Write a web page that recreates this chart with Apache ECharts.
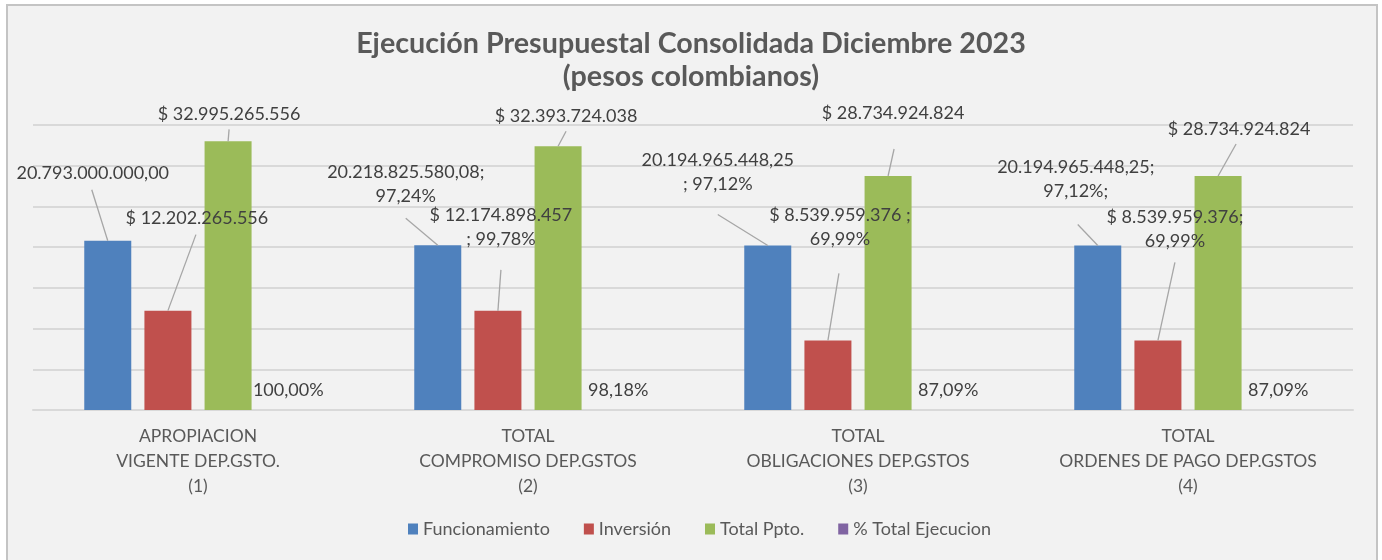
<!DOCTYPE html>
<html>
<head>
<meta charset="utf-8">
<script src="https://cdn.jsdelivr.net/npm/echarts@6/dist/echarts.min.js"></script>
<style>
    html, body { margin: 0; padding: 0; background: #fff; overflow: hidden; }
    #frame {
        position: absolute; left: 6px; top: 4px; width: 1368px; height: 600px;
        border: 2px solid #c4c4c4; background: #f2f2f2;
    }
    #budgetChart { position: absolute; left: 0; top: 0; width: 1382px; height: 560px; }
</style>
</head>
<body>
<div id="frame"></div>
<div id="budgetChart"></div>
<script>
const categories = [
    'APROPIACION\nVIGENTE DEP.GSTO.\n(1)',
    'TOTAL\nCOMPROMISO DEP.GSTOS\n(2)',
    'TOTAL\nOBLIGACIONES DEP.GSTOS\n(3)',
    'TOTAL\nORDENES DE PAGO DEP.GSTOS\n(4)'
];
const seriesNames = ['Funcionamiento', 'Inversión', 'Total Ppto.', '% Total Ejecucion'];

const funcionamiento = [20793000000.00, 20218825580.08, 20194965448.25, 20194965448.25];
const inversion = [12202265556, 12174898457, 8539959376, 8539959376];
const totalPpto = [32995265556, 32393724038, 28734924824, 28734924824];
const pctEjecucion = [100.00, 98.18, 87.09, 87.09];

const funcionamientoLabels = [
    '20.793.000.000,00',
    '20.218.825.580,08;\n97,24%',
    '20.194.965.448,25\n; 97,12%',
    '20.194.965.448,25;\n97,12%;'
];
const inversionLabels = [
    '$ 12.202.265.556',
    '$ 12.174.898.457\n; 99,78%',
    '$ 8.539.959.376 ;\n69,99%',
    '$ 8.539.959.376;\n69,99%'
];
const totalLabels = ['$ 32.995.265.556', '$ 32.393.724.038', '$ 28.734.924.824', '$ 28.734.924.824'];
const pctLabels = ['100,00%', '98,18%', '87,09%', '87,09%'];

const BAR_WIDTH = 47;
const BAR_GAP = 0.28;

window.onload = () => {
    new BudgetChartVm().main();
};

class BudgetChartVm {
    chart;

    // label centre offsets from the top centre of each bar (callout placement)
    calloutOffsets = [
        [[-15, -67], [-32, -61], [-50, -73], [-22, -66]],
        [[29, -92], [3, -84], [12, -113], [17, -111]],
        [[1, -27], [8, -30], [5, -63], [21, -47]]
    ];
    // where the leader line starts, relative to the top centre of the bar
    leaderStarts = [
        [[-16, -51], [-32, -27], [-50, -31], [-20, -21]],
        [[28, -76], [3, -41], [11, -67], [17, -78]],
        [[1, -12], [8, -15], [6, -27], [18, -32]]
    ];

    main() {
        this.chart = echarts.init(document.getElementById('budgetChart'), null, {renderer: 'canvas'});
        this.chart.setOption(this.buildOption());
    }

    barSeries(index, values, labels, color) {
        let offsets = this.calloutOffsets[index];
        return {
            name: seriesNames[index],
            type: 'bar',
            data: values,
            barWidth: BAR_WIDTH,
            barGap: (BAR_GAP * 100) + '%',
            barCategoryGap: '31%',
            itemStyle: {color: color},
            label: {
                show: true,
                position: 'top',
                formatter: p => labels[p.dataIndex],
                fontFamily: 'Lato',
                fontSize: 18,
                lineHeight: 24,
                color: '#404040'
            },
            labelLayout: p => {
                let off = offsets[p.dataIndex];
                return {
                    x: p.rect.x + p.rect.width / 2 + off[0],
                    y: p.rect.y + off[1],
                    align: 'center',
                    verticalAlign: 'middle'
                };
            }
        };
    }

    // callout leader lines, anchored on the bar tops through the axes
    leaderSeries() {
        let data = [];
        [funcionamiento, inversion, totalPpto].forEach((arr, s) => {
            arr.forEach((v, c) => data.push([c, v, s]));
        });
        let starts = this.leaderStarts;
        let step = BAR_WIDTH * (1 + BAR_GAP);
        let groupWidth = BAR_WIDTH * 4 + BAR_WIDTH * BAR_GAP * 3;
        return {
            type: 'custom',
            name: 'leaders',
            data: data,
            encode: {x: 0, y: 1},
            z: 3,
            silent: true,
            renderItem: (params, api) => {
                let c = api.value(0);
                let s = api.value(2);
                let pt = api.coord([c, api.value(1)]);
                let cx = pt[0] - groupWidth / 2 + BAR_WIDTH / 2 + s * step;
                let top = pt[1];
                let st = starts[s][c];
                return {
                    type: 'line',
                    shape: {x1: cx + st[0], y1: top + st[1], x2: cx, y2: top},
                    style: {stroke: '#a6a6a6', lineWidth: 1.3}
                };
            }
        };
    }

    buildOption() {
        let textColor = '#595959';
        return {
            animation: false,
            backgroundColor: 'transparent',
            title: {
                text: 'Ejecución Presupuestal Consolidada Diciembre 2023\n(pesos colombianos)',
                left: 'center',
                top: 22,
                textStyle: {
                    fontFamily: 'Lato',
                    fontSize: 28.7,
                    fontWeight: 'bold',
                    lineHeight: 33,
                    color: textColor
                }
            },
            legend: {
                data: seriesNames,
                bottom: 17,
                left: 403,
                icon: 'rect',
                itemWidth: 10,
                itemHeight: 11,
                itemGap: 34,
                textStyle: {fontFamily: 'Lato', fontSize: 18, color: textColor}
            },
            grid: {left: 33, right: 29, top: 125, bottom: 150},
            xAxis: {
                type: 'category',
                data: categories,
                axisLine: {lineStyle: {color: '#d9d9d9', width: 2}},
                axisTick: {show: false},
                axisLabel: {
                    fontFamily: 'Lato',
                    fontSize: 17.5,
                    lineHeight: 25,
                    color: textColor,
                    margin: 14,
                    interval: 0
                }
            },
            yAxis: {
                type: 'value',
                min: 0,
                max: 35000000000,
                interval: 5000000000,
                axisLabel: {show: false},
                axisLine: {show: false},
                axisTick: {show: false},
                splitLine: {lineStyle: {color: '#d9d9d9', width: 2}}
            },
            series: [
                this.barSeries(0, funcionamiento, funcionamientoLabels, '#4f81bd'),
                this.barSeries(1, inversion, inversionLabels, '#c0504d'),
                this.barSeries(2, totalPpto, totalLabels, '#9bbb59'),
                {
                    name: seriesNames[3],
                    type: 'bar',
                    data: pctEjecucion.map(v => v / 100),
                    itemStyle: {color: '#8064a2'},
                    barWidth: BAR_WIDTH,
                    barGap: (BAR_GAP * 100) + '%',
                    barCategoryGap: '31%',
                    label: {
                        show: true,
                        position: 'top',
                        distance: 11,
                        formatter: p => pctLabels[p.dataIndex],
                        fontFamily: 'Lato',
                        fontSize: 18,
                        color: '#404040'
                    }
                },
                this.leaderSeries()
            ]
        };
    }
}
</script>
</body>
</html>
